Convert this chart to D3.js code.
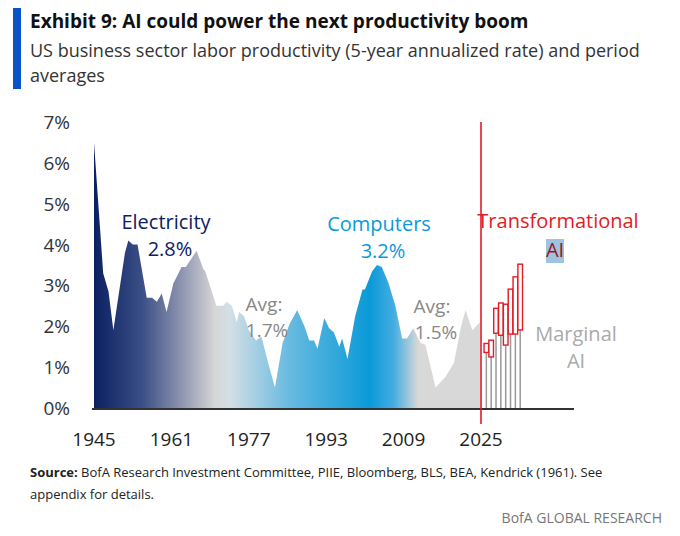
<!DOCTYPE html>
<html><head><meta charset="utf-8">
<script src="https://cdn.jsdelivr.net/npm/d3@7/dist/d3.min.js"></script>
<style>body{margin:0;background:#fff}svg{font-family:"Open Sans",sans-serif}</style>
</head><body><svg id="c" width="680" height="536"></svg>
<script>
const years=[1945,1946.9,1948,1949,1951.4,1952.1,1953,1954,1955.9,1957,1958,1959,1960,1961.4,1963.1,1964,1966.2,1967.6,1968,1970.3,1971.7,1972.4,1973.5,1974.5,1975,1976,1977,1978.5,1979.6,1981,1982.4,1984,1985.4,1987,1988.5,1989.5,1990.5,1991.2,1992.6,1993.6,1994.6,1995.7,1996.3,1997.4,1999,2000.5,2001,2002.5,2003.5,2004.5,2005.9,2007.3,2008.7,2009.7,2011,2012.5,2013.5,2015.6,2017.6,2019.4,2020.8,2021.8,2023.2,2024.8];
const productivity=[6.5,3.3,2.85,1.9,3.8,4.1,4.0,4.0,2.7,2.7,2.6,2.8,2.35,3.05,3.45,3.45,3.85,3.4,3.35,2.5,2.5,2.6,2.5,2.1,2.35,2.25,1.9,1.65,1.75,1.1,0.5,1.6,2.05,2.4,2.0,1.65,1.65,1.45,2.2,1.95,1.85,1.5,1.7,1.2,2.25,2.9,2.9,3.35,3.5,3.45,3.05,2.5,1.7,1.7,1.95,1.6,1.55,0.5,0.75,1.1,1.95,2.4,1.9,2.1];
const aiYears=[2026,2027,2028,2029,2030,2031,2032,2033];
const aiLow=[1.36,1.25,1.83,1.78,1.54,1.81,1.81,1.91];
const aiHigh=[1.58,1.66,2.44,2.57,2.54,2.91,3.21,3.52];
const yTicks=[0,1,2,3,4,5,6,7];
const xTicks=[1945,1961,1977,1993,2009,2025];

const svg=d3.select("#c");
const x=d3.scaleLinear().domain([1945,2025]).range([94,481]);
const y=d3.scaleLinear().domain([0,7]).range([408,122]);

svg.append("rect").attr("x",13).attr("y",8).attr("width",8).attr("height",81).attr("fill","#0a52c8");
svg.append("text").attr("x",30).attr("y",28).attr("font-size",19).attr("font-weight","bold").attr("fill","#111").text("Exhibit 9: AI could power the next productivity boom");
svg.append("text").attr("x",30).attr("y",57).attr("font-size",18).attr("fill","#333").text("US business sector labor productivity (5-year annualized rate) and period");
svg.append("text").attr("x",30).attr("y",82).attr("font-size",18).attr("fill","#333").text("averages");

const defs=svg.append("defs");
const g=defs.append("linearGradient").attr("id","gr").attr("gradientUnits","userSpaceOnUse").attr("x1",x(1945)).attr("x2",x(2025)).attr("y1",0).attr("y2",0);
[[1945,"#0b2162"],[1955,"#3b4f86"],[1963,"#8d94b0"],[1970,"#d6d6d6"],[1973,"#d4dfe6"],[1985,"#6bbbe0"],[2002,"#0a9ad8"],[2007,"#45ade0"],[2012,"#d8d8d8"],[2025,"#d8d8d8"]].forEach(([yr,c])=>{
 g.append("stop").attr("offset",(yr-1945)/80).attr("stop-color",c);});

const area=d3.area().x((d,i)=>x(years[i])).y0(y(0)).y1(d=>y(d)).curve(d3.curveLinear);
svg.append("path").datum(productivity).attr("d",area).attr("fill","url(#gr)");

aiYears.forEach((yr,i)=>{
 const cx=x(yr)+0.5;
 svg.append("line").attr("x1",cx).attr("x2",cx).attr("y1",y(0)).attr("y2",y(aiLow[i])).attr("stroke","#999").attr("stroke-width",1.5);
 svg.append("rect").attr("x",cx-2.3).attr("y",y(aiHigh[i])).attr("width",4.6).attr("height",y(aiLow[i])-y(aiHigh[i])).attr("fill","#fff").attr("stroke","#e31b23").attr("stroke-width",1.4);
});

svg.append("line").attr("x1",92).attr("x2",574).attr("y1",y(0)+1).attr("y2",y(0)+1).attr("stroke","#333").attr("stroke-width",2);
svg.append("line").attr("x1",x(2025)).attr("x2",x(2025)).attr("y1",122).attr("y2",424).attr("stroke","#e31b23").attr("stroke-width",1.6);

yTicks.forEach(t=>svg.append("text").attr("x",70).attr("y",y(t)+7).attr("text-anchor","end").attr("font-size",19).attr("fill","#333").text(t+"%"));
xTicks.forEach(t=>svg.append("text").attr("x",x(t)).attr("y",446).attr("text-anchor","middle").attr("font-size",19).attr("fill","#222").text(t));

const lab=(tx,yy,s,c,xx,anc)=>svg.append("text").attr("x",xx).attr("y",yy).attr("font-size",s).attr("fill",c).attr("text-anchor",anc||"middle").text(tx);
lab("Electricity",229,20,"#0b2162",166);
lab("2.8%",256,20,"#0b2162",170);
lab("Computers",231,20,"#0a9ad8",379);
lab("3.2%",258,20,"#0a9ad8",383);
lab("Avg:",311,19,"#888",264);
lab("1.7%",337,19,"#888",267);
lab("Avg:",313,19,"#888",432);
lab("1.5%",339,19,"#888",436);
svg.append("rect").attr("x",546).attr("y",239).attr("width",18).attr("height",24).attr("fill","#9fc3e0");
lab("Transformational",228,20,"#e31b23",558);
lab("AI",257,20,"#9c1620",555);
lab("Marginal",341,20,"#aaa",576);
lab("AI",368,20,"#aaa",576);

svg.append("text").attr("x",30).attr("y",477).attr("font-size",13).attr("fill","#222").html('<tspan font-weight="bold">Source:</tspan> BofA Research Investment Committee, PIIE, Bloomberg, BLS, BEA, Kendrick (1961). See');
svg.append("text").attr("x",30).attr("y",499).attr("font-size",13).attr("fill","#222").text("appendix for details.");
svg.append("text").attr("x",662).attr("y",523).attr("text-anchor","end").attr("font-size",14).attr("fill","#777").text("BofA GLOBAL RESEARCH");
</script></body></html>
